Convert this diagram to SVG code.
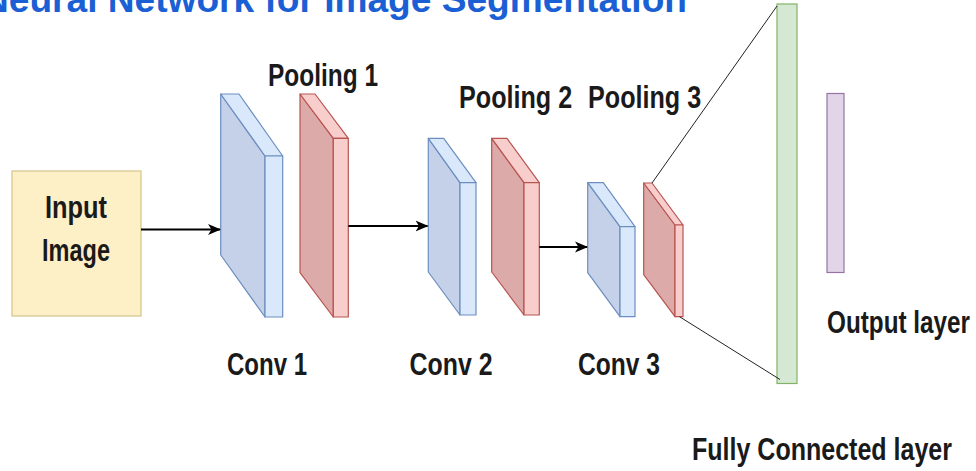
<svg xmlns="http://www.w3.org/2000/svg" width="976" height="471" viewBox="0 0 976 471">
<defs>
<marker id="arr" markerWidth="14" markerHeight="12" refX="12" refY="6" orient="auto" markerUnits="userSpaceOnUse">
<path d="M0,0.5 L13,6 L0,11.5 L3.5,6 Z" fill="#000"/>
</marker>
<style>
.lbl{font-family:"Liberation Sans",Arial,sans-serif;font-size:32px;font-weight:bold;fill:#1a1a1a}
.title{font-family:"Liberation Sans",Arial,sans-serif;font-size:37px;font-weight:bold;fill:#1b5fd5}
.bf{fill:#c4d1e8;stroke:#6c8ebf;stroke-width:1.2;stroke-linejoin:round}
.bs{fill:#dae8fc;stroke:#6c8ebf;stroke-width:1.2;stroke-linejoin:round}
.rf{fill:#dcaaa9;stroke:#b85450;stroke-width:1.2;stroke-linejoin:round}
.rs{fill:#f8cecc;stroke:#b85450;stroke-width:1.2;stroke-linejoin:round}
.conn{stroke:#000;stroke-width:1.8;fill:none}
.thin{stroke:#222;stroke-width:1;fill:none}
</style>
</defs>
<rect width="976" height="471" fill="#fff"/>
<text class="title" x="-18" y="12" textLength="705" lengthAdjust="spacingAndGlyphs">Neural Network for Image Segmentation</text>

<g id="input">
<rect x="12" y="171" width="129" height="145" fill="#fdf0c6" stroke="#d6c38a" stroke-width="1.2"/>
<text class="lbl" transform="translate(45,218) scale(0.77,1)" textLength="80.5" lengthAdjust="spacingAndGlyphs">Input</text>
<text class="lbl" transform="translate(42,261) scale(0.77,1)" textLength="88.3" lengthAdjust="spacingAndGlyphs">Image</text>
</g>

<g id="conv1">
<polygon class="bf" points="220.7,94 265,156 265,317 220.7,255"/>
<polygon class="bs" points="220.7,94 239,94 282.7,156 265,156"/>
<rect class="bs" x="265" y="156" width="17.7" height="161"/>
<text class="lbl" transform="translate(227,375) scale(0.77,1)" textLength="103.9" lengthAdjust="spacingAndGlyphs">Conv 1</text>
</g>

<g id="pool1">
<polygon class="rf" points="300,94 333.3,138.3 333.3,317 300,272.7"/>
<polygon class="rs" points="300,94 315,94 348.3,138.3 333.3,138.3"/>
<rect class="rs" x="333.3" y="138.3" width="15" height="178.7"/>
<text class="lbl" transform="translate(268,86) scale(0.77,1)" textLength="142.9" lengthAdjust="spacingAndGlyphs">Pooling 1</text>
</g>

<g id="conv2">
<polygon class="bf" points="428.3,138.3 460,182.7 460,315 428.3,272"/>
<polygon class="bs" points="428.3,138.3 443.7,138.3 476,182.7 460,182.7"/>
<rect class="bs" x="460" y="182.7" width="16" height="132.3"/>
<text class="lbl" transform="translate(409.5,375) scale(0.77,1)" textLength="107.8" lengthAdjust="spacingAndGlyphs">Conv 2</text>
</g>

<g id="pool2">
<polygon class="rf" points="491.7,138.3 524,182.7 524,315 491.7,272"/>
<polygon class="rs" points="491.7,138.3 507,138.3 539.3,182.7 524,182.7"/>
<rect class="rs" x="524" y="182.7" width="15.3" height="132.3"/>
<text class="lbl" transform="translate(459,108) scale(0.77,1)" textLength="147" lengthAdjust="spacingAndGlyphs">Pooling 2</text>
</g>

<g id="conv3">
<polygon class="bf" points="587.7,182.7 620,226.7 620,316.7 587.7,272.7"/>
<polygon class="bs" points="587.7,182.7 603.3,182.7 635,226.7 620,226.7"/>
<rect class="bs" x="620" y="226.7" width="15" height="90"/>
<text class="lbl" transform="translate(578,375) scale(0.77,1)" textLength="106.5" lengthAdjust="spacingAndGlyphs">Conv 3</text>
</g>

<g id="pool3">
<polygon class="rf" points="643.7,183 675,225 675,316.7 643.7,274.7"/>
<polygon class="rs" points="643.7,183 652,183 683,225 675,225"/>
<rect class="rs" x="675" y="225" width="8" height="91.7"/>
<text class="lbl" transform="translate(588,108) scale(0.77,1)" textLength="147" lengthAdjust="spacingAndGlyphs">Pooling 3</text>
</g>

<g id="fc">
<rect x="777" y="4" width="20" height="379.5" fill="#d5e8d4" stroke="#82b366" stroke-width="1.2"/>
<text class="lbl" transform="translate(692,460) scale(0.77,1)" textLength="337.7" lengthAdjust="spacingAndGlyphs">Fully Connected layer</text>
</g>

<g id="output">
<rect x="827" y="93.5" width="17" height="179" fill="#e1d5e7" stroke="#9673a6" stroke-width="1.2"/>
<text class="lbl" transform="translate(827,333) scale(0.77,1)" textLength="185.7" lengthAdjust="spacingAndGlyphs">Output layer</text>
</g>

<g id="connectors">
<line class="conn" x1="141" y1="229.5" x2="220" y2="229.5" marker-end="url(#arr)"/>
<line class="conn" x1="348.3" y1="226" x2="427.5" y2="226" marker-end="url(#arr)"/>
<line class="conn" x1="539.3" y1="247" x2="587" y2="247" marker-end="url(#arr)"/>
<line class="thin" x1="652" y1="183" x2="777" y2="6"/>
<line class="thin" x1="679.5" y1="316.7" x2="780" y2="379.5"/>
</g>
</svg>
